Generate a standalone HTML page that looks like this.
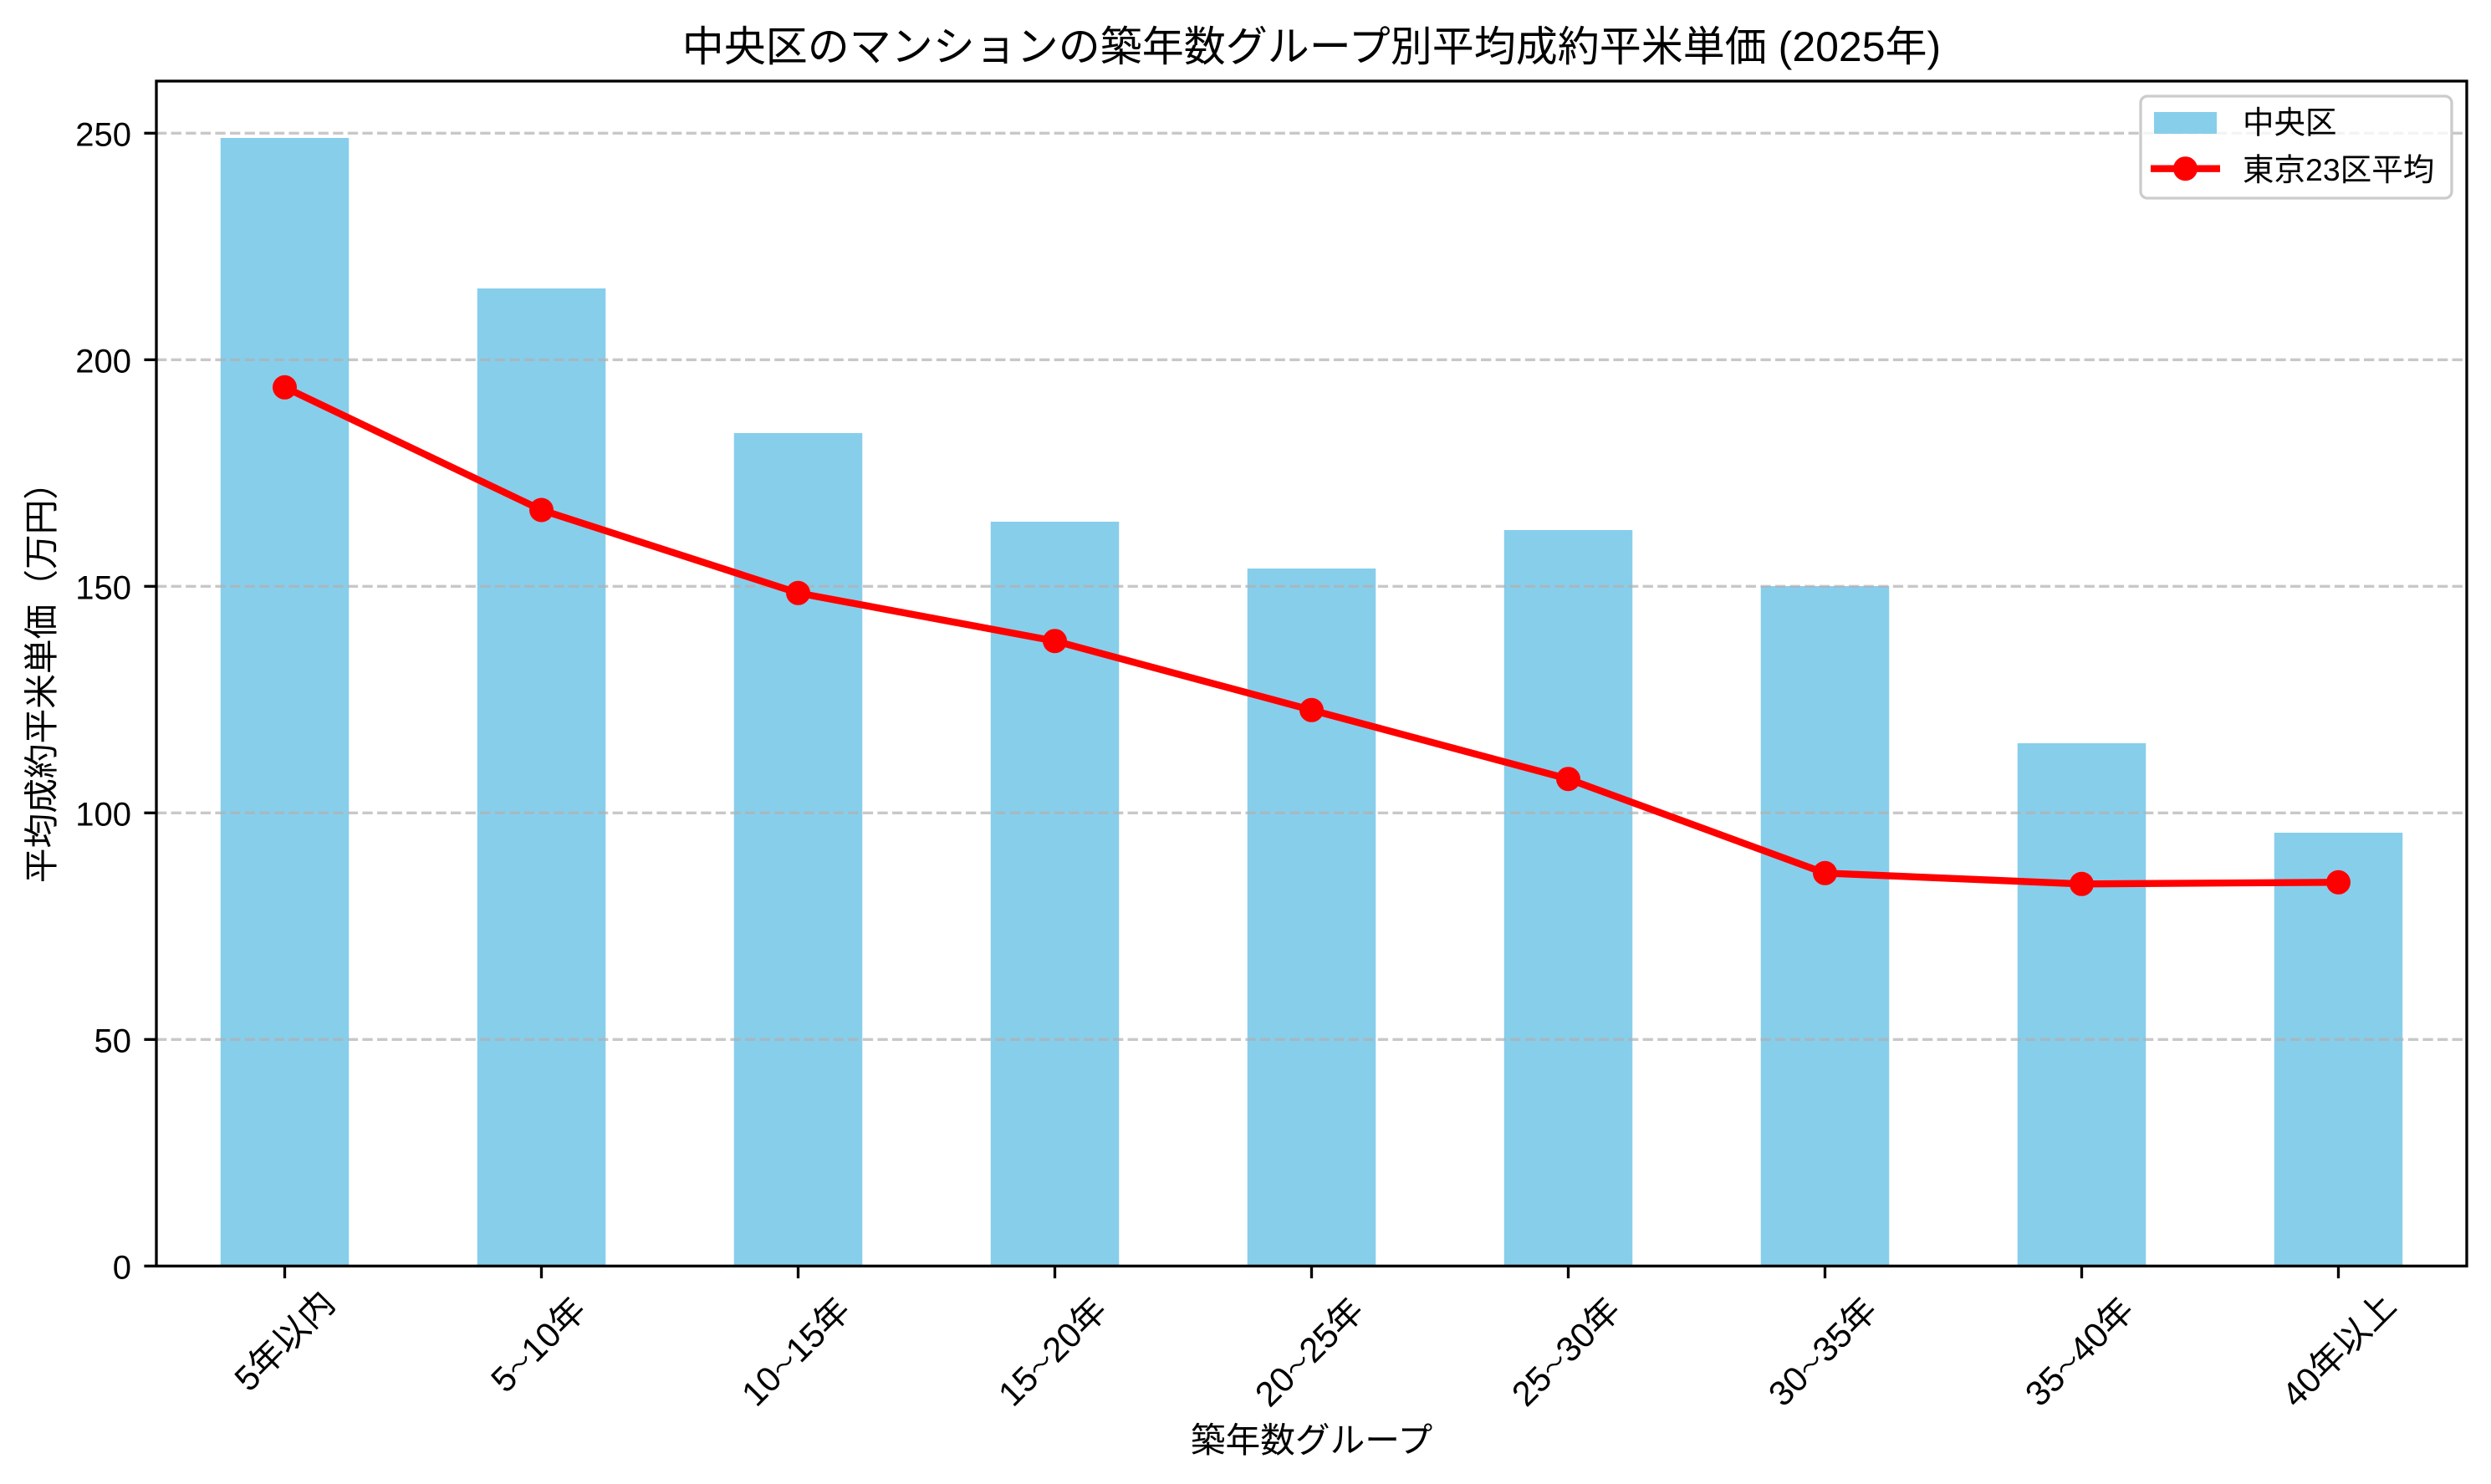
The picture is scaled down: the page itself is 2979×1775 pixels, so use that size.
<!DOCTYPE html>
<html>
<head>
<meta charset="utf-8">
<style>
  html, body { margin: 0; padding: 0; background: #ffffff; }
  body { width: 2979px; height: 1775px; overflow: hidden; }
  svg { display: block; }
  text { font-family: "Liberation Sans", "Noto Sans CJK JP", "IPAGothic", sans-serif; fill: #000; }
</style>
</head>
<body>
<svg width="2979" height="1775" viewBox="0 0 2979 1775" xmlns="http://www.w3.org/2000/svg">
  <rect x="0" y="0" width="2979" height="1775" fill="#ffffff"/>

  <!-- Bars -->
  <g fill="#87ceeb">
    <rect x="263.75" y="165" width="153.5" height="1349.3"/>
    <rect x="570.75" y="345" width="153.5" height="1169.3"/>
    <rect x="877.75" y="518" width="153.5" height="996.3"/>
    <rect x="1184.75" y="624" width="153.5" height="890.3"/>
    <rect x="1491.75" y="680" width="153.5" height="834.3"/>
    <rect x="1798.75" y="634" width="153.5" height="880.3"/>
    <rect x="2105.75" y="701" width="153.5" height="813.3"/>
    <rect x="2412.75" y="889" width="153.5" height="625.3"/>
    <rect x="2719.75" y="996" width="153.5" height="518.3"/>
  </g>

  <!-- Grid lines -->
  <g stroke="#b0b0b0" stroke-opacity="0.7" stroke-width="3.33" stroke-dasharray="12.3 5.3" fill="none">
    <line x1="187" y1="1243.3" x2="2950" y2="1243.3"/>
    <line x1="187" y1="972.3" x2="2950" y2="972.3"/>
    <line x1="187" y1="701.3" x2="2950" y2="701.3"/>
    <line x1="187" y1="430.3" x2="2950" y2="430.3"/>
    <line x1="187" y1="159.3" x2="2950" y2="159.3"/>
  </g>

  <!-- Red line -->
  <polyline fill="none" stroke="#ff0000" stroke-width="8.33" stroke-linejoin="round"
    points="340.5,463.3 647.5,610 954.5,709.3 1261.5,766.7 1568.5,849.3 1875.5,931.7 2182.5,1044.3 2489.5,1057.3 2796.5,1055.3"/>
  <g fill="#ff0000">
    <circle cx="340.5" cy="463.3" r="14.5"/>
    <circle cx="647.5" cy="610" r="14.5"/>
    <circle cx="954.5" cy="709.3" r="14.5"/>
    <circle cx="1261.5" cy="766.7" r="14.5"/>
    <circle cx="1568.5" cy="849.3" r="14.5"/>
    <circle cx="1875.5" cy="931.7" r="14.5"/>
    <circle cx="2182.5" cy="1044.3" r="14.5"/>
    <circle cx="2489.5" cy="1057.3" r="14.5"/>
    <circle cx="2796.5" cy="1055.3" r="14.5"/>
  </g>

  <!-- Spines -->
  <rect x="187" y="97" width="2763" height="1417.3" fill="none" stroke="#000" stroke-width="3.33"/>

  <!-- Y ticks -->
  <g stroke="#000" stroke-width="3.33">
    <line x1="172.4" y1="1514.3" x2="187" y2="1514.3"/>
    <line x1="172.4" y1="1243.3" x2="187" y2="1243.3"/>
    <line x1="172.4" y1="972.3" x2="187" y2="972.3"/>
    <line x1="172.4" y1="701.3" x2="187" y2="701.3"/>
    <line x1="172.4" y1="430.3" x2="187" y2="430.3"/>
    <line x1="172.4" y1="159.3" x2="187" y2="159.3"/>
  </g>
  <!-- X ticks -->
  <g stroke="#000" stroke-width="3.33">
    <line x1="340.5" y1="1514.3" x2="340.5" y2="1529"/>
    <line x1="647.5" y1="1514.3" x2="647.5" y2="1529"/>
    <line x1="954.5" y1="1514.3" x2="954.5" y2="1529"/>
    <line x1="1261.5" y1="1514.3" x2="1261.5" y2="1529"/>
    <line x1="1568.5" y1="1514.3" x2="1568.5" y2="1529"/>
    <line x1="1875.5" y1="1514.3" x2="1875.5" y2="1529"/>
    <line x1="2182.5" y1="1514.3" x2="2182.5" y2="1529"/>
    <line x1="2489.5" y1="1514.3" x2="2489.5" y2="1529"/>
    <line x1="2796.5" y1="1514.3" x2="2796.5" y2="1529"/>
  </g>

  <!-- Y tick labels -->
  <g font-size="40" text-anchor="end">
    <text x="157" y="1529.5">0</text>
    <text x="157" y="1258.5">50</text>
    <text x="157" y="987.5">100</text>
    <text x="157" y="716.5">150</text>
    <text x="157" y="445.5">200</text>
    <text x="157" y="174.5">250</text>
  </g>

  <!-- X tick labels (rotated 45°) -->
  <g font-size="41.7" text-anchor="middle">
    <text transform="translate(339.5,1603) rotate(-45)" x="0" y="15.5">5年以内</text>
    <text transform="translate(643,1607.5) rotate(-45)" x="0" y="15.5">5<tspan font-size="28" dy="-3">〜</tspan><tspan dy="3">10年</tspan></text>
    <text transform="translate(951,1616) rotate(-45)" x="0" y="15.5">10<tspan font-size="28" dy="-3">〜</tspan><tspan dy="3">15年</tspan></text>
    <text transform="translate(1258,1616) rotate(-45)" x="0" y="15.5">15<tspan font-size="28" dy="-3">〜</tspan><tspan dy="3">20年</tspan></text>
    <text transform="translate(1565,1616.5) rotate(-45)" x="0" y="15.5">20<tspan font-size="28" dy="-3">〜</tspan><tspan dy="3">25年</tspan></text>
    <text transform="translate(1872,1616) rotate(-45)" x="0" y="15.5">25<tspan font-size="28" dy="-3">〜</tspan><tspan dy="3">30年</tspan></text>
    <text transform="translate(2179,1616) rotate(-45)" x="0" y="15.5">30<tspan font-size="28" dy="-3">〜</tspan><tspan dy="3">35年</tspan></text>
    <text transform="translate(2486,1616) rotate(-45)" x="0" y="15.5">35<tspan font-size="28" dy="-3">〜</tspan><tspan dy="3">40年</tspan></text>
    <text transform="translate(2796,1614) rotate(-45)" x="0" y="15.5">40年以上</text>
  </g>

  <!-- Axis labels -->
  <text x="1568.5" y="1737" font-size="41.7" text-anchor="middle">築年数グループ</text>
  <text transform="translate(64,806) rotate(-90)" x="0" y="0" font-size="41.7" text-anchor="middle">平均成約平米単価（万円）</text>

  <!-- Title -->
  <text x="1568.5" y="73" font-size="50" text-anchor="middle">中央区のマンションの築年数グループ別平均成約平米単価 (2025年)</text>

  <!-- Legend -->
  <rect x="2560" y="115" width="372" height="122" rx="8" ry="8" fill="#ffffff" fill-opacity="0.8" stroke="#cccccc" stroke-width="3.33"/>
  <rect x="2576" y="134" width="75" height="26" fill="#87ceeb"/>
  <line x1="2572" y1="201.7" x2="2655" y2="201.7" stroke="#ff0000" stroke-width="8.33"/>
  <circle cx="2613.5" cy="201.7" r="14.5" fill="#ff0000"/>
  <text x="2682" y="159.5" font-size="37.5">中央区</text>
  <text x="2682" y="216" font-size="37.5">東京23区平均</text>
</svg>
</body>
</html>
